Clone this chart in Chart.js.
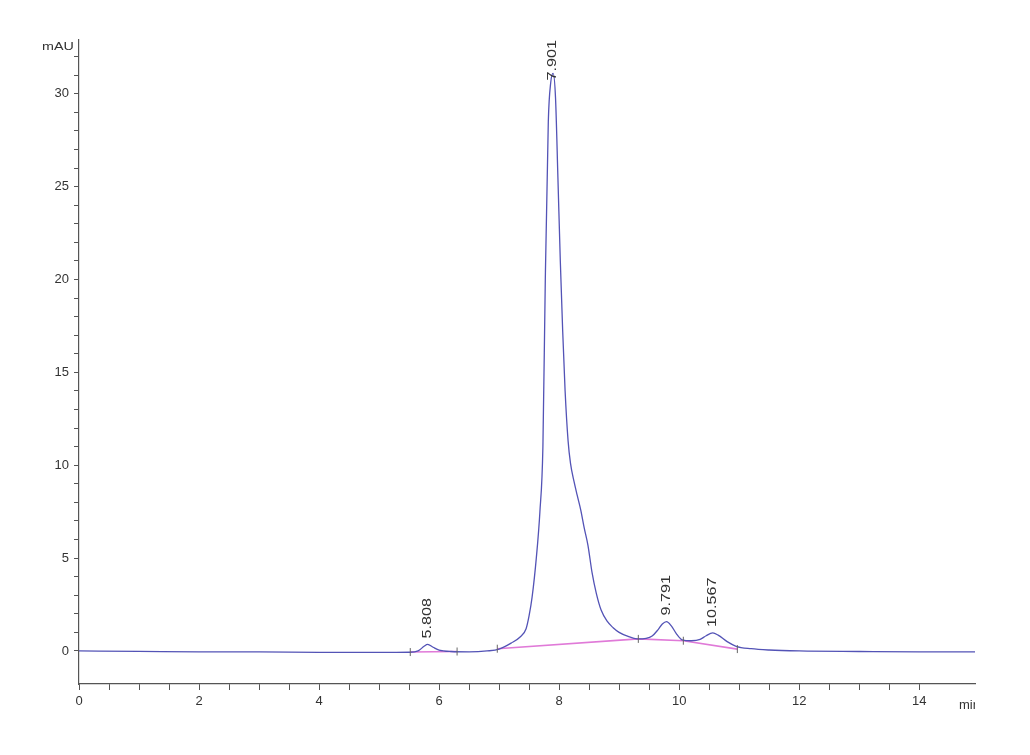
<!DOCTYPE html>
<html>
<head>
<meta charset="utf-8">
<title>Chromatogram</title>
<script src="https://cdn.jsdelivr.net/npm/chart.js@4.4.1/dist/chart.umd.min.js"></script>
<style>
  body { margin: 0; background: #fff; }
  #chart { display: block; }
</style>
</head>
<body>
<canvas id="chart" width="1030" height="755"></canvas>
<script>
// signal trace (min, mAU)
const times = [0, 1, 2, 3, 4, 5, 5.5, 5.65, 5.75, 5.81, 5.9, 6.0, 6.2, 6.5, 6.8, 7.0, 7.2, 7.35, 7.45, 7.5, 7.55,
  7.62, 7.68, 7.73, 7.77, 7.82, 7.86, 7.9, 7.94, 7.98, 8.02, 8.06, 8.1, 8.15, 8.19, 8.25, 8.3, 8.36, 8.42, 8.48, 8.55,
  8.62, 8.7, 8.8, 8.9, 9.0, 9.15, 9.3, 9.45, 9.55, 9.65, 9.72, 9.79, 9.87, 9.95, 10.05, 10.2, 10.35, 10.45,
  10.56, 10.65, 10.8, 10.95, 11.2, 11.5, 12, 13, 14, 14.93];
const signal = [0, -0.02, -0.05, -0.05, -0.08, -0.08, -0.07, 0.0, 0.25, 0.35, 0.2, 0.05, -0.03, -0.05, 0.0, 0.1, 0.42, 0.75, 1.2, 1.9, 2.9,
  5.0, 7.5, 11.0, 20.0, 28.5, 30.6, 31.1, 29.8, 25.5, 21.0, 17.2, 14.0, 11.3, 10.1, 9.1, 8.4, 7.6, 6.6, 5.7, 4.2,
  3.1, 2.2, 1.6, 1.25, 1.0, 0.78, 0.65, 0.68, 0.8, 1.15, 1.45, 1.58, 1.35, 0.95, 0.6, 0.55, 0.62, 0.82,
  0.97, 0.85, 0.5, 0.25, 0.12, 0.05, 0.0, -0.03, -0.05, -0.05];

// integration baselines (null = gap)
const baseTimes = [5.52, 6.3, 6.6, 6.97, 9.32, 10.07, 10.97];
const baseValues = [-0.06, -0.03, null, 0.12, 0.65, 0.55, 0.1];

// peak start / end marks
const markTimes = [5.52, 6.3, 6.97, 9.32, 10.07, 10.97];
const markValues = [-0.06, -0.03, 0.12, 0.65, 0.55, 0.1];

// labelled peaks
const peakTimes = [5.808, 7.901, 9.791, 10.567];
const peakHeights = [0.35, 31.1, 1.58, 0.97];
const peakLabels = ['5.808', '7.901', '9.791', '10.567'];

const yTitle = 'mAU';
const xTitle = 'min';

const toPoints = (xs, ys) => xs.map((x, i) => ({ x: x, y: ys[i] }));

const peakLabelPlugin = {
  id: 'peakLabels',
  afterDatasetsDraw(chart) {
    const { ctx, scales: { x, y }, chartArea } = chart;
    ctx.save();
    ctx.fillStyle = '#333';
    ctx.font = '12px "Liberation Sans", Arial, sans-serif';
    ctx.textBaseline = 'middle';
    ctx.textAlign = 'left';
    const stretch = 1.35;
    peakTimes.forEach((t, i) => {
      const px = x.getPixelForValue(t);
      let py = y.getPixelForValue(peakHeights[i]) - 6;
      const len = ctx.measureText(peakLabels[i]).width * stretch;
      if (py - len < chartArea.top) py = chartArea.top + len;
      ctx.save();
      ctx.translate(px, py);
      ctx.rotate(-Math.PI / 2);
      ctx.scale(stretch, 1);
      ctx.fillText(peakLabels[i], 0, 0);
      ctx.restore();
    });
    ctx.restore();
  },
  afterDraw(chart) {
    const { ctx, chartArea } = chart;
    ctx.save();
    ctx.fillStyle = '#333';
    ctx.font = '11px "Liberation Sans", Arial, sans-serif';
    ctx.textBaseline = 'middle';
    ctx.textAlign = 'left';
    ctx.save();
    ctx.translate(42, 47);
    ctx.scale(1.3, 1);
    ctx.fillText(yTitle, 0, 0);
    ctx.restore();
    // x title, cut at the picture edge like the original
    ctx.beginPath();
    ctx.rect(0, 0, chartArea.right, chart.height);
    ctx.clip();
    ctx.font = '13px "Liberation Sans", Arial, sans-serif';
    ctx.fillText(xTitle, chartArea.right - 16, 705);
    ctx.restore();
  }
};

new Chart(document.getElementById('chart'), {
  type: 'line',
  data: {
    datasets: [
      {
        label: 'Signal',
        data: toPoints(times, signal),
        borderColor: '#5353b6',
        borderWidth: 1.3,
        pointRadius: 0,
        cubicInterpolationMode: 'monotone',
        order: 1
      },
      {
        label: 'Baseline',
        data: toPoints(baseTimes, baseValues),
        borderColor: '#e07ad8',
        borderWidth: 1.6,
        pointRadius: 0,
        spanGaps: false,
        order: 2
      },
      {
        label: 'Marks',
        data: toPoints(markTimes, markValues),
        showLine: false,
        pointStyle: 'line',
        rotation: 90,
        pointRadius: 4,
        borderColor: '#666',
        borderWidth: 1,
        order: 0
      }
    ]
  },
  options: {
    responsive: false,
    animation: false,
    layout: { padding: { left: 0, right: 55, top: 40, bottom: 0 } },
    plugins: {
      legend: { display: false },
      tooltip: { enabled: false }
    },
    scales: {
      x: {
        type: 'linear',
        min: 0,
        max: 14.93,
        afterFit: (scale) => { scale.height = 71; },
        border: { display: true, color: '#555', width: 1.2 },
        grid: { drawOnChartArea: false, tickLength: 6, color: '#555' },
        ticks: {
          stepSize: 0.5,
          autoSkip: false,
          maxRotation: 0,
          padding: 4,
          color: '#333',
          font: { family: '"Liberation Sans", Arial, sans-serif', size: 13 },
          callback: (v) => {
            if (Math.abs(v * 2 - Math.round(v * 2)) > 1e-6) return null;
            return Math.abs(v % 2) < 1e-6 ? String(v) : '';
          }
        }
      },
      y: {
        type: 'linear',
        min: -1.78,
        max: 32.9,
        afterFit: (scale) => { scale.width = 79; },
        border: { display: true, color: '#555', width: 1.2 },
        grid: { drawOnChartArea: false, tickLength: 5, color: '#555' },
        ticks: {
          stepSize: 1,
          autoSkip: false,
          padding: 5,
          color: '#333',
          font: { family: '"Liberation Sans", Arial, sans-serif', size: 13 },
          callback: (v) => {
            if (!Number.isInteger(v)) return null;
            return v % 5 === 0 ? String(v) : '';
          }
        }
      }
    }
  },
  plugins: [peakLabelPlugin]
});
</script>
</body>
</html>
